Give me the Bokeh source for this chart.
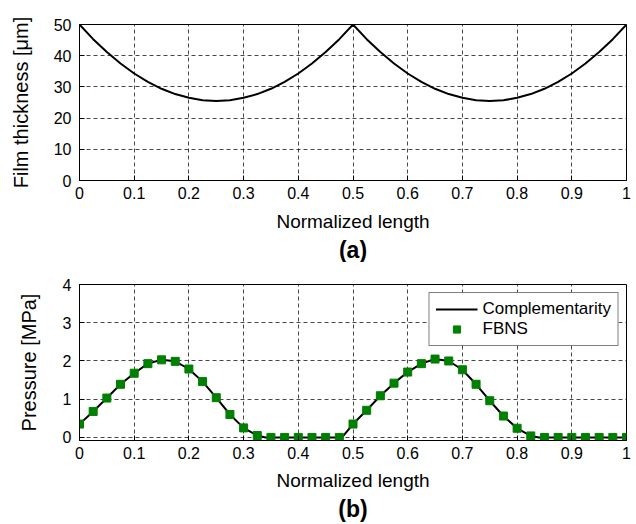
from bokeh.plotting import figure
from bokeh.layouts import column
from bokeh.models import Range1d, Title, Legend, LegendItem
from bokeh.embed import file_html
from bokeh.resources import INLINE

# ---- data ----
x_grid = [round(i * 0.025, 3) for i in range(41)]
film_thickness = [50.0, 45.3, 41.2, 37.5, 34.3, 31.6, 29.4, 27.7, 26.5, 25.7, 25.5,
                  25.7, 26.5, 27.7, 29.4, 31.6, 34.3, 37.5, 41.2, 45.3, 50.0,
                  45.3, 41.2, 37.5, 34.3, 31.6, 29.4, 27.7, 26.5, 25.7, 25.5,
                  25.7, 26.5, 27.7, 29.4, 31.6, 34.3, 37.5, 41.2, 45.3, 50.0]
fbns_pressure = [0.35, 0.68, 1.03, 1.39, 1.68, 1.93, 2.03, 1.99, 1.79, 1.46, 1.04,
                 0.60, 0.25, 0.05, 0.0, 0.0, 0.0, 0.0, 0.0, 0.0,
                 0.35, 0.71, 1.09, 1.42, 1.71, 1.93, 2.05, 2.00, 1.77, 1.39, 0.96,
                 0.56, 0.24, 0.04, 0.0, 0.0, 0.0, 0.0, 0.0, 0.0, 0.0]
comp_x = [0.0, 0.025, 0.05, 0.075, 0.1, 0.125, 0.15, 0.175, 0.2, 0.225, 0.25, 0.275,
          0.3, 0.325, 0.34, 0.48, 0.5, 0.525, 0.55, 0.575, 0.6, 0.625, 0.65, 0.675,
          0.7, 0.725, 0.75, 0.775, 0.8, 0.825, 0.84, 1.0]
comp_pressure = [0.35, 0.68, 1.03, 1.39, 1.68, 1.93, 2.03, 1.99, 1.79, 1.46, 1.04, 0.60,
                 0.25, 0.05, 0.0, 0.0, 0.35, 0.71, 1.09, 1.42, 1.71, 1.93, 2.05, 2.00,
                 1.77, 1.39, 0.96, 0.56, 0.24, 0.04, 0.0, 0.0]

x_ticks = [0, 0.1, 0.2, 0.3, 0.4, 0.5, 0.6, 0.7, 0.8, 0.9, 1]
x_tick_labels = ["0", "0.1", "0.2", "0.3", "0.4", "0.5", "0.6", "0.7", "0.8", "0.9", "1"]
h_ticks = [0, 10, 20, 30, 40, 50]
p_ticks = [0, 1, 2, 3, 4]

FONT = "Liberation Sans"


def style(p, yticks):
    p.xaxis.ticker = x_ticks
    p.xaxis.major_label_overrides = {t: l for t, l in zip(x_ticks, x_tick_labels)}
    p.yaxis.ticker = yticks
    for ax in (p.xaxis[0], p.yaxis[0]):
        ax.major_label_text_font = FONT
        ax.major_label_text_font_size = "16px"
        ax.major_label_text_color = "black"
        ax.axis_label_text_font = FONT
        ax.axis_label_text_font_size = "19px"
        ax.axis_label_text_font_style = "normal"
        ax.axis_label_text_color = "black"
        ax.axis_line_color = "black"
        ax.major_tick_in = 5
        ax.major_tick_out = 0
        ax.minor_tick_line_color = None
        ax.major_tick_line_color = "black"
    p.yaxis.axis_label_text_font_size = "20px"
    p.xaxis.major_label_standoff = 6
    p.yaxis.major_label_standoff = 8
    p.grid.grid_line_color = "black"
    p.grid.grid_line_dash = "4 3"
    p.grid.grid_line_width = 0.8
    p.grid.grid_line_alpha = 0.9
    p.outline_line_color = "black"
    p.outline_line_width = 1
    p.outline_line_alpha = 1
    p.background_fill_color = "white"
    p.border_fill_color = "white"
    p.min_border_left = 79
    p.min_border_right = 10


p1 = figure(width=636, height=262, output_backend="svg", toolbar_location=None,
            x_range=Range1d(0, 1), y_range=Range1d(0, 50))
style(p1, h_ticks)
p1.min_border_top = 24
p1.min_border_bottom = 80
p1.xaxis.axis_label = "Normalized length"
p1.yaxis.axis_label = "Film thickness [μm]"
p1.xaxis.axis_label_standoff = 9
p1.yaxis.axis_label_standoff = 19
p1.line(x_grid, film_thickness, line_color="black", line_width=2)
p1.add_layout(Title(text="(a)", align="center", text_font=FONT, text_font_size="23px",
                    text_font_style="bold", text_color="black", standoff=0), "below")

p2 = figure(width=636, height=262, output_backend="svg", toolbar_location=None,
            x_range=Range1d(0, 1), y_range=Range1d(-0.08, 4))
style(p2, p_ticks)
p2.min_border_top = 22
p2.min_border_bottom = 84
p2.xaxis.axis_label = "Normalized length"
p2.yaxis.axis_label = "Pressure [MPa]"
p2.xaxis.axis_label_standoff = 8
p2.yaxis.axis_label_standoff = 20
r_line = p2.line(comp_x, comp_pressure, line_color="black", line_width=2)
r_sq = p2.scatter(x_grid, fbns_pressure, marker="square", size=8,
                  fill_color="#008000", line_color="#008000")
p2.add_layout(Title(text="(b)", align="center", text_font=FONT, text_font_size="23px",
                    text_font_style="bold", text_color="black", standoff=0), "below")

legend = Legend(items=[LegendItem(label="Complementarity", renderers=[r_line]),
                       LegendItem(label="FBNS", renderers=[r_sq])],
                location="top_right")
legend.label_text_font = FONT
legend.label_text_font_size = "17px"
legend.label_text_color = "black"
legend.border_line_color = "black"
legend.border_line_width = 1
legend.background_fill_alpha = 1
legend.glyph_width = 42
legend.glyph_height = 18
legend.label_height = 18
legend.label_standoff = 5
legend.padding = 6
legend.spacing = 0
legend.margin = 8
p2.add_layout(legend, "center")

layout = column(p1, p2, spacing=0)
open("out.html", "w").write(file_html(layout, INLINE))
